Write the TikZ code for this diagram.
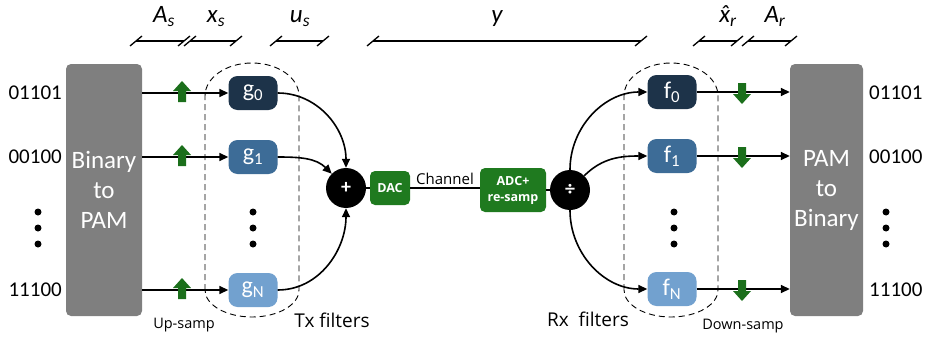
\documentclass[tikz,border=0pt]{standalone}
\usepackage{fontspec}
\setmainfont{Carlito}
\newfontfamily\capfont{Open Sans}
\usetikzlibrary{arrows.meta}

\definecolor{navy}{HTML}{1D3349}
\definecolor{midblue}{HTML}{3D6C97}
\definecolor{lightblue}{HTML}{72A1CF}
\definecolor{convgray}{HTML}{7F7F7F}
\definecolor{boxgreen}{HTML}{1F7A1F}
\definecolor{arrgreen}{HTML}{1B6F1B}

\tikzset{
  conv/.style={fill=convgray, rounded corners=5pt, text=white, align=center,
    font=\fontsize{25}{30}\selectfont, inner sep=0pt},
  filt/.style={rounded corners=9pt, minimum width=49pt, minimum height=34pt,
    text=white, font=\fontsize{24}{24}\selectfont, inner sep=0pt},
  wire/.style={line width=1.6pt, -{Triangle[length=9pt,width=8pt]}},
  plain/.style={line width=1.6pt},
  circ/.style={circle, fill=black, minimum size=40pt, inner sep=0pt,
    text=white, font=\bfseries\fontsize{20}{20}\selectfont},
  gbox/.style={fill=boxgreen, rounded corners=5pt, text=white, align=center,
    font=\capfont\bfseries\fontsize{12.5}{16}\selectfont, inner sep=0pt},
  bits/.style={font=\fontsize{21}{21}\selectfont, inner sep=0pt},
  group/.style={line width=0.9pt, dash pattern=on 6pt off 4pt},
  brk/.style={line width=1.3pt},
  lab/.style={font=\itshape\fontsize{25}{25}\selectfont, anchor=base, inner sep=0pt},
  note/.style={font=\capfont\fontsize{14.5}{15}\selectfont, inner sep=0pt},
  big/.style={font=\capfont\fontsize{19}{19}\selectfont, inner sep=0pt},
  tk/.pic={\draw[brk] (-6,5) -- (6,-5);},
  uparr/.pic={\fill[arrgreen] (-4,10) -- (-4,-1) -- (-9,-1) -- (0,-11) -- (9,-1) -- (4,-1) -- (4,10) -- cycle;},
  dnarr/.pic={\fill[arrgreen] (-4,-10) -- (-4,1) -- (-9,1) -- (0,11) -- (9,1) -- (4,1) -- (4,-10) -- cycle;},
}

\begin{document}
\begin{tikzpicture}[x=1pt, y=-1pt]
\useasboundingbox (0,0) rectangle (930,340);

% converters
\node[conv, minimum width=76pt, minimum height=252pt] (b2p) at (104,190) {Binary\\to\\PAM};
\node[conv, minimum width=73pt, minimum height=252pt] (p2b) at (826.5,190) {PAM\\to\\Binary};

% bit strings
\node[bits, anchor=east] (inA) at (62,93) {01101};
\node[bits, anchor=east] (inB) at (62,157) {00100};
\node[bits, anchor=east] (inC) at (62,290) {11100};
\node[bits, anchor=west] (outA) at (869,93) {01101};
\node[bits, anchor=west] (outB) at (869,157) {00100};
\node[bits, anchor=west] (outC) at (869,290) {11100};

% transmit filters
\node[filt, fill=navy] (g0) at (253,93) {g\textsubscript{0}};
\node[filt, fill=midblue] (g1) at (253,157) {g\textsubscript{1}};
\node[filt, fill=lightblue] (gN) at (253,290) {g\textsubscript{N}};

% receive filters
\node[filt, fill=navy] (f0) at (672,92) {f\textsubscript{0}};
\node[filt, fill=midblue] (f1) at (672,156) {f\textsubscript{1}};
\node[filt, fill=lightblue] (fN) at (672,289) {f\textsubscript{N}};

% filter groups
\draw[group] (205,290) -- (205,96) arc[start angle=180, end angle=360, x radius=47, y radius=33]
  -- (299,290) arc[start angle=0, end angle=180, x radius=47, y radius=27] -- cycle;
\draw[group] (624,290) -- (624,96) arc[start angle=180, end angle=360, x radius=47, y radius=33]
  -- (718,290) arc[start angle=0, end angle=180, x radius=47, y radius=27] -- cycle;

% channel chain
\node[circ] (sum) at (346,188) {+};
\node[gbox, minimum width=40pt, minimum height=34pt] (dac) at (390,188) {DAC};
\node[gbox, minimum width=66pt, minimum height=44pt] (adc) at (513,190) {ADC+\\re-samp};
\node[circ] (div) at (570,190) {÷};

\draw[plain] (sum.east) -- (dac.west);
\draw[plain] (dac.east) -- node[above=3pt, font=\capfont\fontsize{15}{15}\selectfont, inner sep=0pt] {Channel} (adc.west |- dac.east);
\draw[plain] (adc.east |- div) -- (div.west);

% inputs to transmit filters
\draw[wire] (b2p.east |- g0) -- (g0.west);
\draw[wire] (b2p.east |- g1) -- (g1.west);
\draw[wire] (b2p.east |- gN) -- (gN.west);
\pic at (182,92) {uparr};
\pic at (182,156) {uparr};
\pic at (182,289) {uparr};

% transmit filters to the adder
\draw[wire] (g0.east) to[out=0, in=90] (sum.north);
\draw[wire] (g1.east) to[out=0, in=135] (sum.north west);
\draw[wire] (gN.east) to[out=0, in=-90] (sum.south);

% splitter to receive filters
\draw[wire] (div.north) to[out=90, in=180] (f0.west);
\draw[wire] (div.north east) to[out=45, in=180] (f1.west);
\draw[wire] (div.south) to[out=-90, in=180] (fN.west);

% receive filters to the output converter
\draw[wire] (f0.east) -- (p2b.west |- f0);
\draw[wire] (f1.east) -- (p2b.west |- f1);
\draw[wire] (fN.east) -- (p2b.west |- fN);
\pic at (742,93) {dnarr};
\pic at (742,157) {dnarr};
\pic at (742,290) {dnarr};

% elided rows
\foreach \x in {38,253,674,886}
  \foreach \y in {212,228,244}
    \fill (\x,\y) circle (3.5pt);

% signal spans
\draw[brk] (136,41) -- (184,41); \pic at (136,41) {tk}; \pic at (184,41) {tk};
\draw[brk] (190,41) -- (236,41); \pic at (190,41) {tk}; \pic at (236,41) {tk};
\draw[brk] (276,41) -- (323,41); \pic at (276,41) {tk}; \pic at (323,41) {tk};
\draw[brk] (373,41) -- (641,41); \pic at (373,41) {tk}; \pic at (641,41) {tk};
\draw[brk] (699,41) -- (737,41); \pic at (699,41) {tk}; \pic at (737,41) {tk};
\draw[brk] (748,41) -- (791,41); \pic at (748,41) {tk}; \pic at (791,41) {tk};

\node[lab] (lAs) at (164,23) {A\textsubscript{s}};
\node[lab] (lxs) at (216,23) {x\textsubscript{s}};
\node[lab] (lus) at (300,23) {u\textsubscript{s}};
\node[lab] (ly) at (497,23) {y};
\node[lab] (lxr) at (728,23) {\accent"02C6 x\textsubscript{r}};
\node[lab] (lAr) at (775,23) {A\textsubscript{r}};

% captions
\node[note] (cUp) at (184,325) {Up-samp};
\node[big] (cTx) at (332,320) {Tx filters};
\node[big] (cRx) at (588,319) {Rx\ \ filters};
\node[note] (cDn) at (743,326) {Down-samp};
\end{tikzpicture}
\end{document}
